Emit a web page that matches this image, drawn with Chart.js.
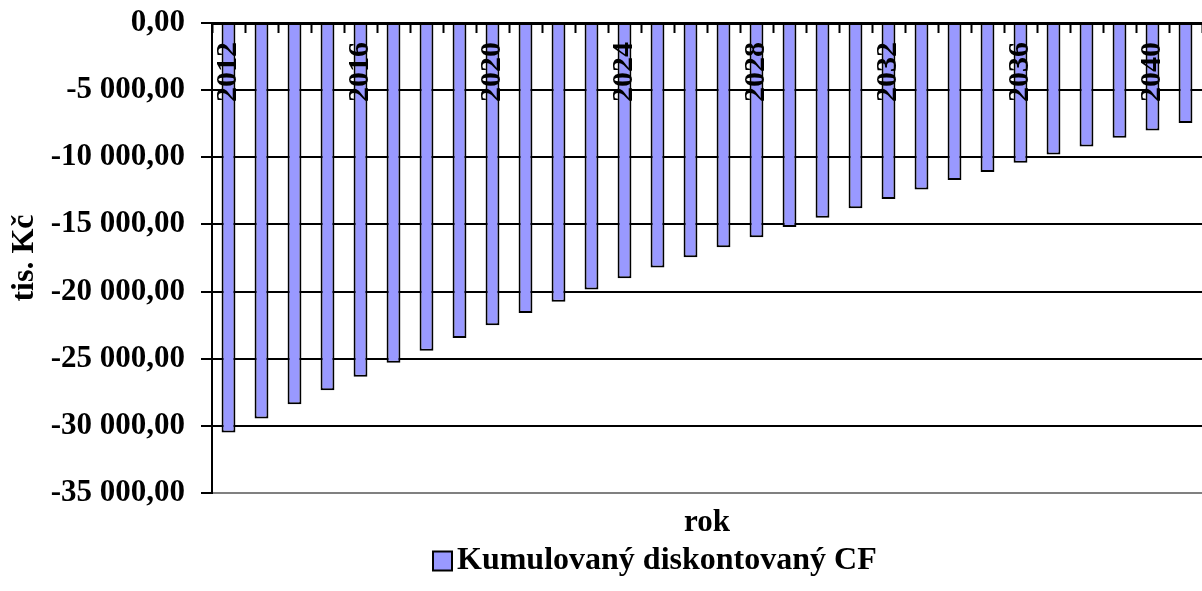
<!DOCTYPE html>
<html lang="cs">
<head>
<meta charset="utf-8">
<title>Kumulovaný diskontovaný CF</title>
<script src="https://cdn.jsdelivr.net/npm/chart.js@4.4.1/dist/chart.umd.min.js"></script>
<style>
  html, body { margin: 0; padding: 0; background: #fff; }
  canvas { display: block; }
</style>
</head>
<body>
<canvas id="cf" width="1202" height="591"></canvas>
<script>
// Years on the category axis
const years = [
  '2012', '2013', '2014', '2015', '2016', '2017', '2018', '2019', '2020', '2021',
  '2022', '2023', '2024', '2025', '2026', '2027', '2028', '2029', '2030', '2031',
  '2032', '2033', '2034', '2035', '2036', '2037', '2038', '2039', '2040', '2041'
];

// Cumulative discounted cash flow, thousands CZK
const cumulativeCF = [
  -30500, -29450, -28400, -27350, -26350, -25300, -24400, -23450, -22500, -21600,
  -20750, -19850, -19000, -18200, -17450, -16700, -15950, -15200, -14500, -13800,
  -13100, -12400, -11700, -11100, -10400, -9800, -9200, -8550, -8000, -7450
];

// Value axis range and step
const yMin = -35000;
const yMax = 0;
const yStep = 5000;

// Only every fourth year gets a label
const labelEvery = 4;

const seriesName = 'Kumulovaný diskontovaný CF';
const FONT = "'Liberation Serif', 'Times New Roman', serif";

// "-35 000,00" style number formatting
function czk(v) {
  const parts = Math.abs(v).toFixed(2).split('.');
  const whole = parts[0].replace(/\B(?=(\d{3})+(?!\d))/g, ' ');
  return (v < 0 ? '-' : '') + whole + ',' + parts[1];
}

// Series key drawn below the axis title
const seriesKey = {
  id: 'seriesKey',
  afterDraw(chart, args, opts) {
    const ctx = chart.ctx;
    const ds = chart.data.datasets[0];
    const s = opts.box;
    ctx.save();
    ctx.font = 'bold ' + opts.size + 'px ' + FONT;
    ctx.textBaseline = 'middle';
    ctx.textAlign = 'left';
    ctx.fillStyle = ds.backgroundColor;
    ctx.fillRect(opts.x, opts.y - s / 2, s, s);
    ctx.lineWidth = 2;
    ctx.strokeStyle = ds.borderColor;
    ctx.strokeRect(opts.x, opts.y - s / 2, s, s);
    ctx.fillStyle = '#000';
    ctx.fillText(ds.label, opts.x + s + 5, opts.y);
    ctx.restore();
  }
};

new Chart(document.getElementById('cf'), {
  type: 'bar',
  data: {
    labels: years,
    datasets: [{
      label: seriesName,
      data: cumulativeCF,
      backgroundColor: '#9999FF',
      borderColor: '#000000',
      borderWidth: 2,
      categoryPercentage: 1.0,
      barPercentage: 0.42,
      xAxisID: 'x',
      yAxisID: 'y'
    }]
  },
  plugins: [seriesKey],
  options: {
    responsive: false,
    animation: false,
    devicePixelRatio: 1,
    layout: { padding: { left: 0, right: 0, top: 0, bottom: 47 } },
    plugins: {
      legend: { display: false },
      tooltip: { enabled: false },
      seriesKey: { x: 433, y: 561, box: 19, size: 32 }
    },
    scales: {
      x: {
        type: 'category',
        position: 'top',
        offset: true,
        grid: {
          display: true,
          offset: true,
          drawOnChartArea: false,
          drawTicks: true,
          tickLength: -10,
          tickWidth: 2,
          tickColor: '#000'
        },
        border: { display: true, color: '#000', width: 3, z: 1 },
        ticks: {
          autoSkip: false,
          minRotation: 90,
          maxRotation: 90,
          mirror: true,
          padding: 79,
          z: 1,
          color: '#000',
          font: { family: FONT, size: 30, weight: 'bold' },
          callback: (v, i) => (i % labelEvery === 0 ? years[i] : '')
        },
        afterFit: (s) => { s.height = 23; s.paddingLeft = 0; s.paddingRight = 0; }
      },
      x2: {
        type: 'category',
        position: 'bottom',
        grid: { display: false, drawTicks: false },
        border: { display: true, color: '#808080', width: 2 },
        ticks: { display: false },
        title: {
          display: true,
          text: 'rok',
          color: '#000',
          font: { family: FONT, size: 31, weight: 'bold' },
          padding: { top: 12, bottom: 2 }
        },
        afterFit: (s) => { s.height = 51; }
      },
      y: {
        min: yMin,
        max: yMax,
        position: 'left',
        grid: {
          color: (c) => (c.tick && c.tick.value === yMin ? 'rgba(0,0,0,0)' : '#000'),
          lineWidth: 2,
          drawTicks: true,
          tickLength: 11,
          tickWidth: 2,
          tickColor: '#000'
        },
        border: { display: true, color: '#000', width: 2 },
        ticks: {
          stepSize: yStep,
          padding: 16,
          color: '#000',
          font: { family: FONT, size: 31, weight: 'bold' },
          callback: (v) => czk(v)
        },
        title: {
          display: true,
          text: 'tis. Kč',
          color: '#000',
          font: { family: FONT, size: 32, weight: 'bold' },
          padding: { top: 6, bottom: 4 }
        },
        afterFit: (s) => { s.width = 212; s.paddingTop = 0; s.paddingBottom = 0; }
      }
    }
  }
});
</script>
</body>
</html>
